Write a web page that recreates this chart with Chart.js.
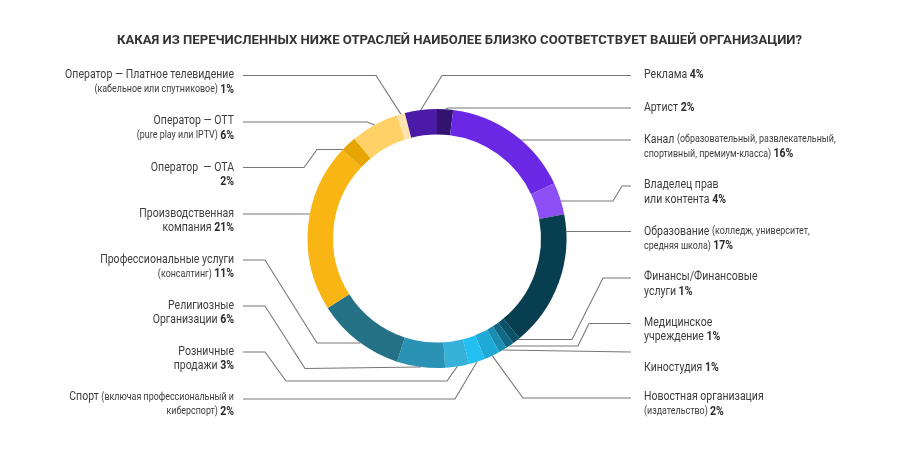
<!DOCTYPE html>
<html>
<head>
<meta charset="utf-8">
<script src="https://cdn.jsdelivr.net/npm/chart.js@4.4.0/dist/chart.umd.min.js"></script>
<style>
  html, body { margin: 0; padding: 0; background: #fff; }
  canvas { display: block; }
</style>
</head>
<body>
<canvas id="ring" width="918" height="450"></canvas>
<script>
const title = "КАКАЯ ИЗ ПЕРЕЧИСЛЕННЫХ НИЖЕ ОТРАСЛЕЙ НАИБОЛЕЕ БЛИЗКО СООТВЕТСТВУЕТ ВАШЕЙ ОРГАНИЗАЦИИ?";

// порядок по часовой стрелке, начиная сверху
const categories = [
  "Артист", "Канал", "Владелец прав или контента", "Образование",
  "Финансы/Финансовые услуги", "Медицинское учреждение", "Киностудия",
  "Новостная организация", "Спорт", "Розничные продажи", "Религиозные Организации",
  "Профессиональные услуги", "Производственная компания", "Оператор — OTA",
  "Оператор — OTT", "Оператор — Платное телевидение", "Реклама"
];
const shares = [2, 16, 4, 17, 1, 1, 1, 2, 2, 3, 6, 11, 21, 2, 6, 1, 4];
const colors = [
  "#33136f", "#6a27e4", "#8b4ff4", "#073f50",
  "#0b5268", "#106884", "#1a8db0",
  "#1ea9d6", "#22c0f0", "#36b2da", "#2a93b5",
  "#257287", "#f9b514", "#e6a503",
  "#ffd166", "#fde4ae", "#4b1ba8"
];

// текст подписей: строки из кусочков [текст, стиль]; процент добавляется в конец
const labelLines = [
  [[["Артист ", "m"]]],
  [[["Канал ", "m"], ["(образовательный, развлекательный,", "s"]], [["спортивный, премиум-класса) ", "s"]]],
  [[["Владелец прав", "m"]], [["или контента ", "m"]]],
  [[["Образование ", "m"], ["(колледж, университет,", "s"]], [["средняя школа) ", "s"]]],
  [[["Финансы/Финансовые", "m"]], [["услуги ", "m"]]],
  [[["Медицинское", "m"]], [["учреждение ", "m"]]],
  [[["Киностудия ", "m"]]],
  [[["Новостная организация", "m"]], [["(издательство) ", "s"]]],
  [[["Спорт ", "m"], ["(включая профессиональный и", "s"]], [["киберспорт) ", "s"]]],
  [[["Розничные", "m"]], [["продажи ", "m"]]],
  [[["Религиозные", "m"]], [["Организации ", "m"]]],
  [[["Профессиональные услуги", "m"]], [["(консалтинг) ", "s"]]],
  [[["Производственная", "m"]], [["компания ", "m"]]],
  [[["Оператор  — OTA", "m"]], [["", "m"]]],
  [[["Оператор — OTT", "m"]], [["(pure play или IPTV) ", "s"]]],
  [[["Оператор — Платное телевидение", "m"]], [["(кабельное или спутниковое) ", "s"]]],
  [[["Реклама ", "m"]]]
];

// раскладка выносок: сторона, y текста, изломы линии, конец (mid = середина дуги, edge = край кольца на y последней точки)
const callouts = [
  { side: "r", ty: 107.5, path: [[631, 108], [448, 108]], end: "mid" },
  { side: "r", ty: 139.5, path: [[631, 140]], end: "edge" },
  { side: "r", ty: 185, path: [[631, 186], [622, 186], [613, 201]], end: "edge" },
  { side: "r", ty: 231.5, path: [[631, 231.5]], end: "edge" },
  { side: "r", ty: 277, path: [[631, 278], [603, 278], [572, 339.5]], end: "edge" },
  { side: "r", ty: 322.5, path: [[631, 323.5], [589, 323.5], [578, 346]], end: "edge" },
  { side: "r", ty: 368, path: [[631, 352]], end: "mid" },
  { side: "r", ty: 397, path: [[631, 398], [523, 398]], end: "mid" },
  { side: "l", ty: 397, path: [[243, 399], [455, 399]], end: "mid" },
  { side: "l", ty: 351.5, path: [[243, 352], [265, 352], [286, 381], [447, 381]], end: "mid" },
  { side: "l", ty: 305.5, path: [[243, 306], [265, 306], [305, 368.5]], end: "mid" },
  { side: "l", ty: 259.5, path: [[243, 260], [265, 260], [317, 343]], end: "edge" },
  { side: "l", ty: 213.5, path: [[243, 214]], end: "edge" },
  { side: "l", ty: 167.5, path: [[243, 167.5], [304, 167.5], [317, 149.5]], end: "edge" },
  { side: "l", ty: 121, path: [[243, 122], [367, 122]], end: "mid" },
  { side: "l", ty: 75, path: [[243, 75.5], [376, 75.5]], end: "mid" },
  { side: "r", ty: 75, path: [[631, 75.5], [442, 75.5]], end: "mid" }
];

const FONTS = { m: "13px Roboto", s: "11px Roboto", b: "bold 13px Roboto" };
const SQUEEZE = 0.81;   // имитация condensed-шрифта
const LINE_H = 14.5;

function drawRich(ctx, parts, x, y, align) {
  let w = 0;
  const widths = parts.map(p => { ctx.font = FONTS[p[1]]; const mw = ctx.measureText(p[0]).width; w += mw; return mw; });
  const x0 = align === "right" ? x - w * SQUEEZE : x;
  ctx.save();
  ctx.translate(x0, y);
  ctx.scale(SQUEEZE, 1);
  ctx.textBaseline = "middle";
  ctx.textAlign = "left";
  let off = 0;
  parts.forEach((p, i) => {
    ctx.font = FONTS[p[1]];
    ctx.fillStyle = p[1] === "b" ? "#2b2b2b" : "#3d3d3d";
    ctx.fillText(p[0], off, 0);
    off += widths[i];
  });
  ctx.restore();
}

const calloutPlugin = {
  id: "callouts",
  afterDatasetsDraw(chart) {
    const ctx = chart.ctx;
    const meta = chart.getDatasetMeta(0);

    // заголовок
    ctx.save();
    ctx.font = "bold 13.5px Roboto";
    const tw = ctx.measureText(title).width;
    const k = 685 / tw;
    ctx.translate(459.5, 41);
    ctx.scale(k, 1);
    ctx.fillStyle = "#333";
    ctx.textAlign = "center";
    ctx.textBaseline = "middle";
    ctx.fillText(title, 0, 0);
    ctx.restore();

    meta.data.forEach((arc, i) => {
      const c = callouts[i];
      const p = arc.getProps(["x", "y", "startAngle", "endAngle", "outerRadius"], true);
      let end;
      if (c.end === "edge") {
        const ly = c.path[c.path.length - 1][1];
        const dx = Math.sqrt(Math.max(0, p.outerRadius * p.outerRadius - (ly - p.y) * (ly - p.y)));
        end = [c.side === "r" ? p.x + dx : p.x - dx, ly];
      } else {
        const a = (p.startAngle + p.endAngle) / 2;
        end = [p.x + Math.cos(a) * p.outerRadius, p.y + Math.sin(a) * p.outerRadius];
      }

      ctx.save();
      ctx.strokeStyle = "#777";
      ctx.lineWidth = 1.1;
      ctx.beginPath();
      ctx.moveTo(c.path[0][0], c.path[0][1]);
      c.path.slice(1).forEach(pt => ctx.lineTo(pt[0], pt[1]));
      ctx.lineTo(end[0], end[1]);
      ctx.stroke();
      ctx.restore();

      const lines = labelLines[i].map(l => l.slice());
      lines[lines.length - 1].push([shares[i] + "%", "b"]);
      const tx = c.side === "r" ? 644 : 234;
      lines.forEach((parts, j) => {
        drawRich(ctx, parts, tx, c.ty + j * LINE_H, c.side === "r" ? "left" : "right");
      });
    });
  }
};

new Chart(document.getElementById("ring"), {
  type: "doughnut",
  data: {
    labels: categories,
    datasets: [{
      data: shares,
      backgroundColor: colors,
      borderWidth: 0
    }]
  },
  options: {
    responsive: false,
    animation: false,
    cutout: "80.3%",
    rotation: 0,
    layout: { padding: { left: 307.5, right: 351.5, top: 109, bottom: 82 } },
    plugins: {
      legend: { display: false },
      tooltip: { enabled: false }
    }
  },
  plugins: [calloutPlugin]
});
</script>
</body>
</html>
